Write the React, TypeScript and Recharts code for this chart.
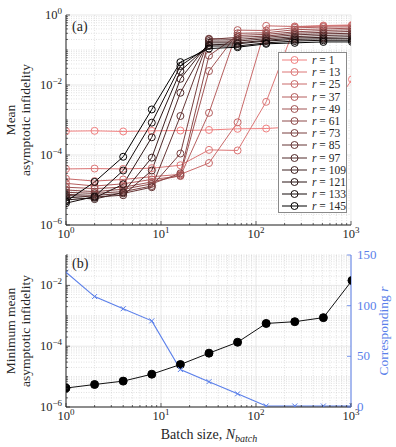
import React from 'react'
import { LineChart, Line, XAxis, YAxis, CartesianGrid, Legend } from 'recharts'

const batchSizes = [1, 2, 4, 8, 16, 32, 64, 128, 256, 512, 1024]
const rLabels = [1, 13, 25, 37, 49, 61, 73, 85, 97, 109, 121, 133, 145]

// mean asymptotic infidelity for each r, one value per batch size
const infR1 = [4.8e-4, 4.9e-4, 4.7e-4, 4.9e-4, 5.0e-4, 5.2e-4, 5.6e-4, 5.7e-4, 6.4e-4, 8.7e-4, 1.45e-2]
const infR13 = [4.0e-5, 4.1e-5, 4.0e-5, 4.2e-5, 5.1e-5, 1.4e-4, 1.35e-4, 3.3e-3, 0.46, 0.5, 0.52]
const infR25 = [2.1e-5, 1.8e-5, 2.0e-5, 2.4e-5, 2.8e-5, 5.9e-5, 8.6e-4, 0.49, 0.47, 0.48, 0.5]
const infR37 = [1.55e-5, 1.3e-5, 1.5e-5, 2.0e-5, 2.5e-5, 1.6e-3, 0.37, 0.36, 0.43, 0.45, 0.46]
const infR49 = [1.2e-5, 1.1e-5, 1.2e-5, 1.7e-5, 2.6e-5, 0.025, 0.3, 0.31, 0.38, 0.4, 0.42]
const infR61 = [1.0e-5, 9.0e-6, 1.05e-5, 1.5e-5, 3.0e-5, 0.069, 0.26, 0.28, 0.33, 0.36, 0.38]
const infR73 = [8.6e-6, 8.0e-6, 9.0e-6, 1.3e-5, 1.1e-4, 0.2, 0.23, 0.25, 0.3, 0.32, 0.34]
const infR85 = [7.5e-6, 7.0e-6, 8.0e-6, 1.2e-5, 1.3e-3, 0.21, 0.2, 0.23, 0.27, 0.29, 0.3]
const infR97 = [7.0e-6, 6.3e-6, 7.1e-6, 3.6e-5, 6.0e-3, 0.18, 0.18, 0.21, 0.24, 0.26, 0.27]
const infR109 = [6.3e-6, 5.5e-6, 8.5e-6, 8.4e-5, 0.015, 0.16, 0.16, 0.19, 0.22, 0.23, 0.24]
const infR121 = [5.2e-6, 6.0e-6, 1.45e-5, 3.2e-4, 0.025, 0.14, 0.15, 0.18, 0.2, 0.21, 0.21]
const infR133 = [4.2e-6, 6.5e-6, 3.6e-5, 8.4e-4, 0.035, 0.13, 0.13, 0.16, 0.18, 0.19, 0.19]
const infR145 = [4.7e-6, 1.7e-5, 8.9e-5, 2.0e-3, 0.045, 0.11, 0.12, 0.15, 0.16, 0.17, 0.17]

const seriesValues = [infR1, infR13, infR25, infR37, infR49, infR61, infR73, infR85, infR97, infR109, infR121, infR133, infR145]

const seriesColors = [
  '#f08080', '#dc7676', '#c96a6a', '#b55f5f', '#a15454', '#8d4a4a', '#793f3f',
  '#653535', '#512a2a', '#3d2020', '#291515', '#150b0b', '#000000',
]

// panel (b)
const minInfidelity = [4.2e-6, 5.5e-6, 7.1e-6, 1.2e-5, 2.5e-5, 5.9e-5, 1.35e-4, 5.6e-4, 6.4e-4, 8.7e-4, 1.45e-2]
const bestR = [133, 109, 97, 85, 37, 25, 13, 1, 1, 1, 1]

const xDecades = [1, 10, 100, 1000]
const topDecades = [1e-6, 1e-5, 1e-4, 1e-3, 1e-2, 1e-1, 1]
const bottomDecades = [1e-6, 1e-5, 1e-4, 1e-3, 1e-2, 1e-1]
const rTicks = [0, 50, 100, 150]

const BLUE = '#5a7fea'
const AXIS = '#262626'
const FONT = "'Liberation Serif', 'DejaVu Serif', serif"
const serif = { fontFamily: FONT }

const withMinors = (decades: number[]) => {
  const out: number[] = []
  decades.forEach((d, i) => {
    out.push(d)
    if (i < decades.length - 1) for (let k = 2; k <= 9; k++) out.push(d * k)
  })
  return out
}

const expOf = (v: number) => Math.round(Math.log10(v))
const isDecade = (v: number) => Math.abs(Math.log10(v) - expOf(v)) < 1e-6
const isMajor = (v: number) => isDecade(v) && expOf(v) % 2 === 0
const expText = (v: number) => String(expOf(v)).replace('-', '\u2212')

const xTicks = withMinors(xDecades)
const topYTicks = withMinors(topDecades)
const bottomYTicks = withMinors(bottomDecades)
const xMinor = xTicks.filter((v) => !isDecade(v))
const topYMajor = topDecades.filter(isMajor)
const topYMinor = topYTicks.filter((v) => !isMajor(v))
const bottomYMajor = bottomDecades.filter(isMajor)
const bottomYMinor = bottomYTicks.filter((v) => !isMajor(v))

const topData = batchSizes.map((n, i) => {
  const row: Record<string, number> = { n }
  rLabels.forEach((r, j) => {
    row[`r${r}`] = seriesValues[j][i]
  })
  return row
})

const bottomData = batchSizes.map((n, i) => ({ n, minInf: minInfidelity[i], r: bestR[i] }))

const Pow = ({ x, y, v, anchor }: { x: number; y: number; v: number; anchor: 'start' | 'middle' | 'end' }) => (
  <text x={x} y={y} textAnchor={anchor} fontSize={12.5} fill={AXIS} style={serif}>
    10
    <tspan dy={-5} fontSize={9}>{expText(v)}</tspan>
  </text>
)

const XTickBottom = (props: any) => {
  const { x, y, payload, showLabel } = props
  const v = payload.value
  const major = isDecade(v)
  return (
    <g>
      <line x1={x} x2={x} y1={y} y2={y - (major ? 4 : 2)} stroke={AXIS} strokeWidth={0.7} />
      {showLabel && major && <Pow x={x} y={y + 13} v={v} anchor="middle" />}
    </g>
  )
}

const XTickTop = (props: any) => {
  const { x, y, payload } = props
  const major = isDecade(payload.value)
  return <line x1={x} x2={x} y1={y} y2={y + (major ? 4 : 2)} stroke={AXIS} strokeWidth={0.7} />
}

const YTickLeft = (props: any) => {
  const { x, y, payload } = props
  const v = payload.value
  const major = isMajor(v)
  return (
    <g>
      <line x1={x} x2={x + (major ? 4 : 2)} y1={y} y2={y} stroke={AXIS} strokeWidth={0.7} />
      {major && <Pow x={x - 4} y={y + 4} v={v} anchor="end" />}
    </g>
  )
}

const YTickRight = (props: any) => {
  const { x, y, payload } = props
  const major = isMajor(payload.value)
  return <line x1={x} x2={x - (major ? 4 : 2)} y1={y} y2={y} stroke={AXIS} strokeWidth={0.7} />
}

const RTick = (props: any) => {
  const { x, y, payload } = props
  return (
    <g>
      <line x1={x} x2={x - 4} y1={y} y2={y} stroke={BLUE} strokeWidth={0.8} />
      <text x={x + 6} y={y + 4} fontSize={13} fill={BLUE} style={serif}>
        {payload.value}
      </text>
    </g>
  )
}

const TwoLineLabel = ({ cx, cy, lines, gap }: { cx: number; cy: number; lines: string[]; gap: number }) => (
  <text transform={`translate(${cx}, ${cy}) rotate(-90)`} textAnchor="middle" fontSize={13.5} fill={AXIS} style={serif}>
    {lines.map((s, i) => (
      <tspan key={s} x={0} dy={i === 0 ? 0 : gap}>
        {s}
      </tspan>
    ))}
  </text>
)

const LegendBox = () => (
  <div
    style={{
      width: 69,
      height: 161,
      boxSizing: 'border-box',
      border: '1px solid #8a8a8a',
      background: '#fff',
      fontFamily: FONT,
      fontSize: 11.5,
      color: AXIS,
    }}
  >
    {rLabels.map((r, i) => (
      <div key={r} style={{ display: 'flex', alignItems: 'center', height: 12.2, marginTop: i === 0 ? 1 : 0 }}>
        <svg width={30} height={12} style={{ marginLeft: 3 }}>
          <line x1={0} x2={25} y1={6} y2={6} stroke={seriesColors[i]} strokeWidth={1} />
          <circle cx={12.5} cy={6} r={3.5} fill="none" stroke={seriesColors[i]} strokeWidth={1} />
        </svg>
        <span style={{ whiteSpace: 'nowrap', lineHeight: '12px' }}>
          <i>r</i> = {r}
        </span>
      </div>
    ))}
  </div>
)

const CrossDot = (props: any) => {
  const { cx, cy, index } = props
  if (cx == null || cy == null) return <g key={`c${index}`} />
  return (
    <path
      key={`c${index}`}
      d={`M${cx - 2.5},${cy - 2.5}L${cx + 2.5},${cy + 2.5}M${cx - 2.5},${cy + 2.5}L${cx + 2.5},${cy - 2.5}`}
      stroke={BLUE}
      strokeWidth={1}
    />
  )
}

const panelLetter = (text: string, top: number) => (
  <div style={{ position: 'absolute', left: 72, top, fontFamily: FONT, fontSize: 14, color: AXIS }}>{text}</div>
)

export default function App() {
  return (
    <div style={{ position: 'absolute', left: 0, top: 0, width: 396, height: 447, background: '#fff', fontFamily: FONT }}>
      <div style={{ position: 'absolute', left: 0, top: 0 }}>
        <LineChart width={396} height={250} data={topData} margin={{ top: 15, right: 45, bottom: 0, left: 0 }}>
          <CartesianGrid horizontalValues={topYMinor} verticalValues={xMinor} stroke="#cdcdcd" strokeDasharray="1 1.5" strokeWidth={0.6} />
          <CartesianGrid horizontalValues={topYMajor} verticalValues={xDecades} stroke="#dedede" strokeWidth={0.7} />
          <XAxis dataKey="n" type="number" scale="log" domain={[1, 1000]} allowDataOverflow ticks={xTicks} interval={0}
            height={25} tickSize={0} tickMargin={0} tickLine={false} axisLine={{ stroke: AXIS }}
            tick={<XTickBottom showLabel />} />
          <XAxis xAxisId="top" orientation="top" dataKey="n" type="number" scale="log" domain={[1, 1000]} allowDataOverflow
            ticks={xTicks} interval={0} height={0} tickSize={0} tickMargin={0} tickLine={false} axisLine={{ stroke: AXIS }} tick={<XTickTop />} />
          <YAxis type="number" scale="log" domain={[1e-6, 1]} allowDataOverflow ticks={topYTicks} interval={0} width={66}
            tickSize={0} tickMargin={0} tickLine={false} axisLine={{ stroke: AXIS }} tick={<YTickLeft />}
            label={() => <TwoLineLabel cx={15} cy={120} lines={['Mean', 'asymptotic infidelity']} gap={15} />} />
          <YAxis yAxisId="right" orientation="right" type="number" scale="log" domain={[1e-6, 1]} allowDataOverflow ticks={topYTicks}
            interval={0} width={0} tickSize={0} tickMargin={0} tickLine={false} axisLine={{ stroke: AXIS }} tick={<YTickRight />} />
          {rLabels.map((r, i) => (
            <Line key={r} dataKey={`r${r}`} name={`r = ${r}`} stroke={seriesColors[i]} strokeWidth={1}
              dot={{ r: 3.5, fill: 'none', stroke: seriesColors[i], strokeWidth: 1 }} isAnimationActive={false} />
          ))}
          <Legend layout="vertical" align="center" verticalAlign="middle" content={() => <LegendBox />}
            wrapperStyle={{ left: 278, top: 52, width: 69, height: 161 }} />
        </LineChart>
      </div>
      {panelLetter('(a)', 19)}

      <div style={{ position: 'absolute', left: 0, top: 240 }}>
        <LineChart width={396} height={207} data={bottomData} margin={{ top: 15, right: 0, bottom: 0, left: 0 }}>
          <CartesianGrid yAxisId="left" horizontalValues={bottomYMinor} verticalValues={xMinor} stroke="#cdcdcd" strokeDasharray="1 1.5" strokeWidth={0.6} />
          <CartesianGrid yAxisId="left" horizontalValues={bottomYMajor} verticalValues={xDecades} stroke="#dedede" strokeWidth={0.7} />
          <XAxis dataKey="n" type="number" scale="log" domain={[1, 1000]} allowDataOverflow ticks={xTicks} interval={0}
            height={40} tickSize={0} tickMargin={0} tickLine={false} axisLine={{ stroke: AXIS }}
            tick={<XTickBottom showLabel />}
            label={() => (
              <text x={209} y={199} textAnchor="middle" fontSize={14} fill={AXIS} style={serif}>
                Batch size, <tspan fontStyle="italic">N</tspan>
                <tspan fontStyle="italic" fontSize={10} dy={3}>batch</tspan>
              </text>
            )} />
          <XAxis xAxisId="top" orientation="top" dataKey="n" type="number" scale="log" domain={[1, 1000]} allowDataOverflow
            ticks={xTicks} interval={0} height={0} tickSize={0} tickMargin={0} tickLine={false} axisLine={{ stroke: AXIS }} tick={<XTickTop />} />
          <YAxis yAxisId="left" type="number" scale="log" domain={[1e-6, 1e-1]} allowDataOverflow ticks={bottomYTicks} interval={0}
            width={66} tickSize={0} tickMargin={0} tickLine={false} axisLine={{ stroke: AXIS }} tick={<YTickLeft />}
            label={() => <TwoLineLabel cx={15} cy={91} lines={['Minimum mean', 'asymptotic infidelity']} gap={15} />} />
          <YAxis yAxisId="r" orientation="right" type="number" domain={[0, 150]} allowDataOverflow ticks={rTicks} interval={0}
            width={45} tickSize={0} tickMargin={0} tickLine={false} axisLine={{ stroke: BLUE }} tick={<RTick />}
            label={() => (
              <text transform="translate(388, 91) rotate(-90)" textAnchor="middle" fontSize={13.5} fill={BLUE} style={serif}>
                Corresponding <tspan fontStyle="italic">r</tspan>
              </text>
            )} />
          <Line yAxisId="left" dataKey="minInf" stroke="#111" strokeWidth={1}
            dot={{ r: 4, fill: '#000', stroke: '#000', strokeWidth: 1 }} isAnimationActive={false} />
          <Line yAxisId="r" dataKey="r" stroke={BLUE} strokeWidth={1.1} dot={<CrossDot />} isAnimationActive={false} />
        </LineChart>
      </div>
      {panelLetter('(b)', 256)}
    </div>
  )
}
